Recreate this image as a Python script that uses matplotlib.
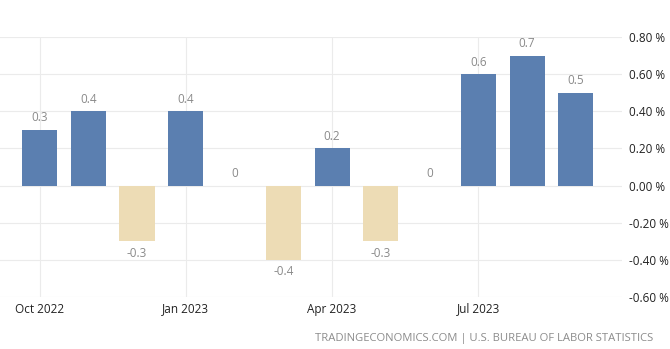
import numpy as np
import matplotlib.pyplot as plt

plt.rcParams['font.family'] = ['Open Sans', 'DejaVu Sans']

months = ['Oct 2022', 'Nov 2022', 'Dec 2022', 'Jan 2023', 'Feb 2023', 'Mar 2023',
          'Apr 2023', 'May 2023', 'Jun 2023', 'Jul 2023', 'Aug 2023', 'Sep 2023']
values = [0.3, 0.4, -0.3, 0.4, 0.0, -0.4, 0.2, -0.3, 0.0, 0.6, 0.7, 0.5]
label_months = ['Oct 2022', 'Jan 2023', 'Apr 2023', 'Jul 2023']
yticks = [-0.6, -0.4, -0.2, 0.0, 0.2, 0.4, 0.6, 0.8]

fig = plt.figure(figsize=(6.7, 3.49), dpi=100)
ax = fig.add_axes([0, 0.149, 0.928, 0.745])

x = np.arange(len(months))
colors = ['#5b7fb0' if v >= 0 else '#eddcb5' for v in values]
ax.bar(x, values, width=0.72, color=colors, zorder=3)

for xi, v in zip(x, values):
    if v >= 0:
        ax.annotate(f'{v:g}', (xi, v), xytext=(0, 4), textcoords='offset points',
                    ha='center', va='bottom', color='#8a8a8a', fontsize=8.5)
    else:
        ax.annotate(f'{v:g}', (xi, v), xytext=(0, -4), textcoords='offset points',
                    ha='center', va='top', color='#8a8a8a', fontsize=8.5)

ax.set_xlim(-0.81, 11.94)
ax.set_ylim(-0.6, 0.8)

tick_pos = [months.index(m) for m in label_months]
ax.set_xticks(tick_pos)
ax.set_xticklabels(label_months, fontsize=8.5, color='#222222')
ax.set_yticks(yticks)
ax.set_yticklabels([f'{t:.2f} %' for t in yticks], fontsize=8.5, color='#222222')
ax.yaxis.tick_right()
ax.tick_params(axis='both', length=0)
ax.tick_params(axis='y', pad=5)
ax.tick_params(axis='x', pad=4)

ax.grid(True, color='#ebebeb', linewidth=0.8, zorder=0)
for s in ax.spines.values():
    s.set_visible(False)

fig.text(0.975, 0.029, 'TRADINGECONOMICS.COM | U.S. BUREAU OF LABOR STATISTICS',
         ha='right', va='center', color='#8c8c8c', fontsize=8.1)

fig.savefig('out.png', dpi=100)
